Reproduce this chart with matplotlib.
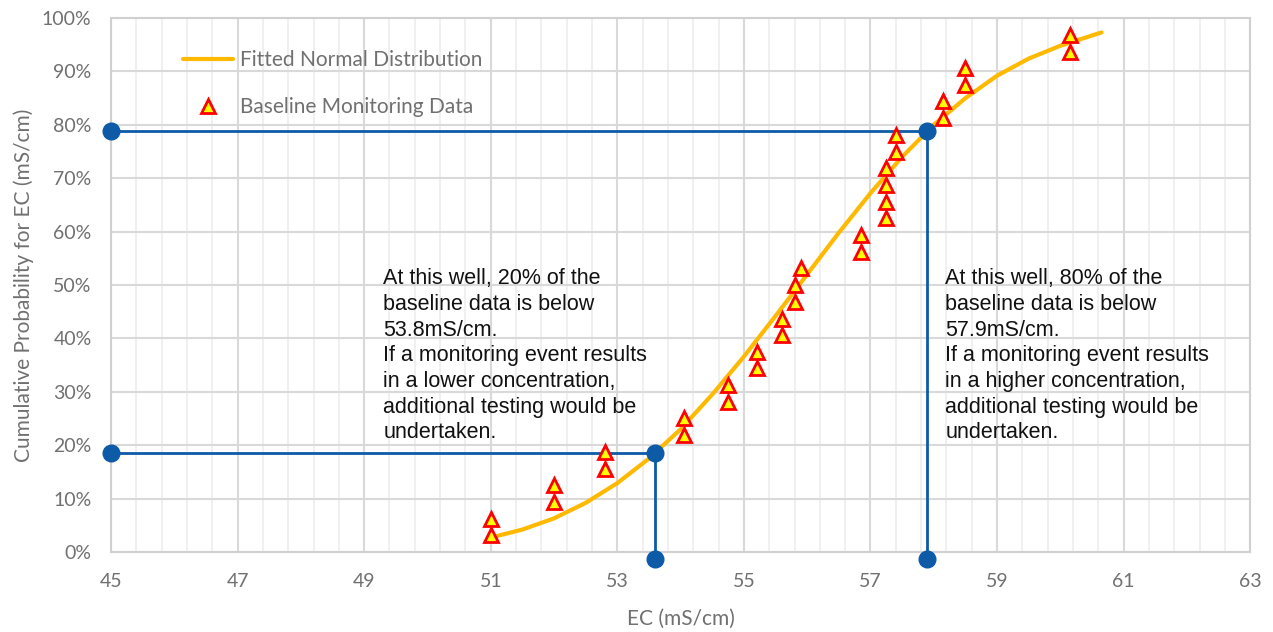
import matplotlib
matplotlib.use("Agg")
import matplotlib.pyplot as plt
from matplotlib.ticker import FixedLocator, FuncFormatter

# Baseline monitoring data (EC, cumulative probability %)
data_ec = [51.0, 51.0, 52.0, 52.0, 52.8, 52.8, 54.05, 54.05, 54.75, 54.75,
           55.2, 55.2, 55.6, 55.6, 55.8, 55.8, 55.9, 56.85, 56.85,
           57.25, 57.25, 57.25, 57.25, 57.4, 57.4, 58.15, 58.15,
           58.5, 58.5, 60.15, 60.15]
data_prob = [3.1, 6.2, 9.4, 12.5, 15.6, 18.7, 21.9, 25.0, 28.1, 31.2,
             34.4, 37.5, 40.6, 43.7, 46.9, 50.0, 53.1, 56.2, 59.4,
             62.5, 65.6, 68.7, 71.9, 75.0, 78.1, 81.2, 84.4,
             87.5, 90.6, 93.7, 96.9]

# Fitted normal distribution curve
fit_ec = [51.0, 51.5, 52.0, 52.5, 53.0, 53.5, 54.0, 54.5, 55.0, 55.5,
          56.0, 56.5, 57.0, 57.5, 58.0, 58.5, 59.0, 59.5, 60.0, 60.65]
fit_prob = [2.7, 4.2, 6.3, 9.2, 12.9, 17.5, 23.0, 29.5, 36.6, 44.2,
            52.0, 59.8, 67.2, 74.0, 80.0, 85.0, 89.2, 92.4, 94.8, 97.3]

# Axis ticks
x_major_ticks = [45, 47, 49, 51, 53, 55, 57, 59, 61, 63]
y_major_ticks = [0, 10, 20, 30, 40, 50, 60, 70, 80, 90, 100]
x_minor_step = 0.4

# Threshold guide lines
low_ec, low_prob = 53.6, 18.5
high_ec, high_prob = 57.9, 78.8
x_start = 45
guide_bottom = -1.3

text_low = ("At this well, 20% of the\nbaseline data is below\n53.8mS/cm.\n"
            "If a monitoring event results\nin a lower concentration,\n"
            "additional testing would be\nundertaken.")
text_high = ("At this well, 80% of the\nbaseline data is below\n57.9mS/cm.\n"
             "If a monitoring event results\nin a higher concentration,\n"
             "additional testing would be\nundertaken.")

plt.rcParams['font.family'] = ['Lato', 'DejaVu Sans']

fig = plt.figure(figsize=(12.73, 6.32), dpi=100)
ax = fig.add_axes([0.0872, 0.1266, 0.8949, 0.8449])

ax.set_xlim(45, 63)
ax.set_ylim(0, 100)
ax.xaxis.set_major_locator(FixedLocator(x_major_ticks))
n_minor = int(round((x_major_ticks[-1] - x_major_ticks[0]) / x_minor_step))
ax.xaxis.set_minor_locator(FixedLocator(
    [x_major_ticks[0] + i * x_minor_step for i in range(n_minor + 1)]))
ax.yaxis.set_major_locator(FixedLocator(y_major_ticks))
ax.yaxis.set_major_formatter(FuncFormatter(lambda v, p: f"{v:.0f}%"))
ax.xaxis.set_major_formatter(FuncFormatter(lambda v, p: f"{v:.0f}"))

ax.grid(which='minor', axis='x', color='#eeeeee', linewidth=1.2, zorder=0)
ax.grid(which='major', color='#d9d9d9', linewidth=1.5, zorder=0)
ax.set_axisbelow(True)
for s in ax.spines.values():
    s.set_color('#d0d0d0')
    s.set_linewidth(1.5)
ax.tick_params(which='both', length=0)
ax.tick_params(axis='x', pad=15, labelsize=14, labelcolor='#707070')
ax.tick_params(axis='y', pad=14, labelsize=14, labelcolor='#707070')

ax.set_xlabel("EC (mS/cm)", fontsize=15, color='#707070', labelpad=14)
ax.set_ylabel("Cumulative Probability for EC (mS/cm)", fontsize=15,
              color='#707070', labelpad=6)

blue = '#0d5aa7'
for ec, pr in [(low_ec, low_prob), (high_ec, high_prob)]:
    ax.plot([x_start, ec, ec], [pr, pr, guide_bottom], color=blue, lw=2,
            clip_on=False, zorder=3)
    ax.plot([x_start, ec, ec], [pr, pr, guide_bottom], 'o', color=blue,
            ms=12, clip_on=False, zorder=6)

ax.plot(fit_ec, fit_prob, color='#ffb900', lw=3, zorder=4,
        solid_capstyle='round', label='Fitted Normal Distribution')
ax.plot(data_ec, data_prob, linestyle='none', marker='^', ms=10,
        markerfacecolor='#ffff00', markeredgecolor='#ff0000', mew=2,
        zorder=5, label='Baseline Monitoring Data')

leg = ax.legend(loc='upper left', bbox_to_anchor=(0.047, 0.975), frameon=False,
                fontsize=15, labelspacing=1.3, handlelength=2.4,
                handletextpad=0.3, labelcolor='#707070')

for x, t in [(49.3, text_low), (58.18, text_high)]:
    ax.text(x, 53.1, t, fontsize=15.5, family=['Liberation Sans'],
            color='#111111', va='top', ha='left', linespacing=1.29, zorder=7)

fig.savefig("out.png", dpi=100)
